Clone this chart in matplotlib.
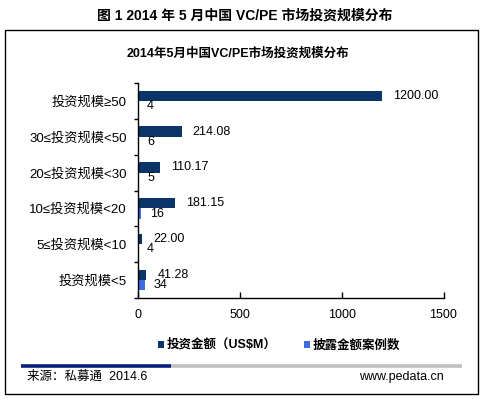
import matplotlib
matplotlib.use("Agg")
import matplotlib.pyplot as plt
from matplotlib.patches import Rectangle
from matplotlib.lines import Line2D

plt.rcParams['font.family'] = ['Liberation Sans', 'Noto Sans CJK SC', 'DejaVu Sans']

categories = ["投资规模≥50", "30≤投资规模<50", "20≤投资规模<30",
              "10≤投资规模<20", "5≤投资规模<10", "投资规模<5"]
amount = [1200.00, 214.08, 110.17, 181.15, 22.00, 41.28]
cases = [4, 6, 5, 16, 4, 34]
series_names = ["投资金额（US$M）", "披露金额案例数"]
x_ticks = [0, 500, 1000, 1500]
main_title = "图 1 2014 年 5 月中国 VC/PE 市场投资规模分布"
chart_title = "2014年5月中国VC/PE市场投资规模分布"
source_text = "来源：私募通  2014.6"
site_text = "www.pedata.cn"

NAVY = "#0B3468"
BLUE = "#3F6AE0"

W, H = 483, 399
fig = plt.figure(figsize=(W / 100, H / 100), dpi=100)
fig.patch.set_facecolor("white")

def fx(px):
    return px / W

def fy(py):
    return 1 - py / H

# outer frame
fig.patches.append(Rectangle((fx(5), fy(394)), fx(478) - fx(5), fy(30) - fy(394),
                             transform=fig.transFigure, fill=False,
                             edgecolor="black", linewidth=1.0))

fig.text(fx(245), fy(16), main_title, ha="center", va="center",
         fontsize=10, fontweight="bold")
fig.text(fx(238), fy(53), chart_title, ha="center", va="center",
         fontsize=9, fontweight="bold")

ax = fig.add_axes([fx(138), fy(298), fx(443.5) - fx(138), fy(83) - fy(298)])
ypos = list(range(len(categories)))
h = 0.29
b1 = ax.barh([y - h / 2 for y in ypos], amount, height=h, color=NAVY, label=series_names[0])
b2 = ax.barh([y + h / 2 for y in ypos], cases, height=h, color=BLUE, label=series_names[1])

ax.bar_label(b1, labels=[f"{v:.2f}" for v in amount], padding=8, fontsize=9)
ax.bar_label(b2, labels=[f"{v:d}" for v in cases], padding=6, fontsize=9)

ax.set_xlim(0, 1500)
ax.set_ylim(len(categories) - 0.5, -0.5)
ax.set_xticks(x_ticks)
ax.set_xticklabels([str(t) for t in x_ticks], fontsize=9)
ax.set_yticks(ypos)
ax.set_yticklabels(categories, fontsize=9.5)
ax.set_yticks([y - 0.5 for y in range(len(categories) + 1)], minor=True)
ax.tick_params(axis="y", which="major", length=0, pad=8)
ax.tick_params(axis="y", which="minor", direction="out", length=3, width=1)
ax.tick_params(axis="x", which="major", direction="in", length=4, width=1, pad=8)
for s in ["top", "right"]:
    ax.spines[s].set_visible(False)
for s in ["left", "bottom"]:
    ax.spines[s].set_linewidth(1.0)
    ax.spines[s].set_color("black")

fig.legend(handles=[b1, b2], labels=series_names, loc="center",
           bbox_to_anchor=(fx(279), fy(345)), ncol=2, frameon=False,
           handlelength=0.5, handleheight=0.5, handletextpad=0.2,
           columnspacing=2.2, prop={"weight": "bold", "size": 9})

# footer rule
fig.add_artist(Line2D([fx(21), fx(171)], [fy(366), fy(366)], color="#0A1F7A",
                      linewidth=2.6, transform=fig.transFigure, solid_capstyle="butt"))
fig.add_artist(Line2D([fx(171), fx(462)], [fy(366), fy(366)], color="#C0C0C0",
                      linewidth=2.6, transform=fig.transFigure, solid_capstyle="butt"))
fig.text(fx(27), fy(377), source_text, ha="left", va="center", fontsize=9)
fig.text(fx(444), fy(377), site_text, ha="right", va="center", fontsize=9)

fig.savefig("out.png", dpi=100, facecolor="white")
